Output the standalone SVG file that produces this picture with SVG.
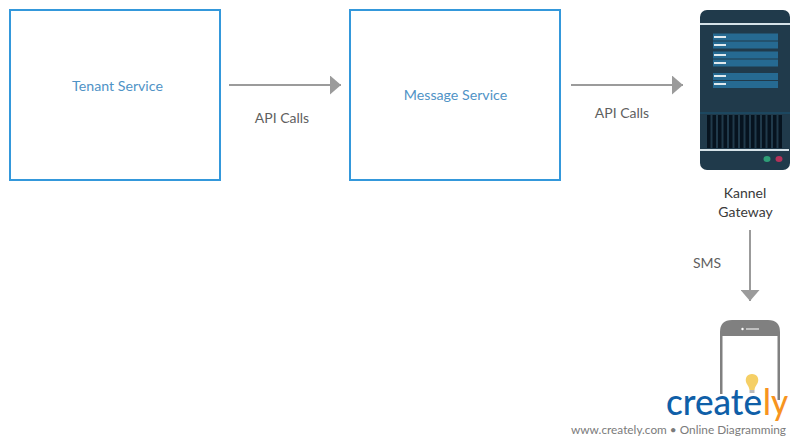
<svg xmlns="http://www.w3.org/2000/svg" width="800" height="445" viewBox="0 0 800 445">
<style>
text{font-family:Lato,"Open Sans",sans-serif}
.box{fill:#fff;stroke:#3498db;stroke-width:2}
.bl{font-size:14.2px;fill:#4f93c6;text-anchor:middle}
.lb{font-size:14px;fill:#5f5f5f;text-anchor:middle}
.k{font-size:14px;fill:#3a3a3a;text-anchor:middle}
.c{stroke:#9b9b9b;stroke-width:2;fill:none;marker-end:url(#a)}
.bar{fill:#266a92}
.hl{fill:#dfe9ee}
.sl{fill:#06131f}
</style>
<defs><marker id="a" markerUnits="userSpaceOnUse" markerWidth="12" markerHeight="19" refX="11" refY="9.5" orient="auto"><path d="M0 0L11 9.5L0 19Z" fill="#9b9b9b"/></marker></defs>
<rect width="800" height="445" fill="#fff"/>
<g id="connectors">
<path class="c" d="M229 85H341"/>
<path class="c" d="M571 85H683"/>
<path class="c" d="M750 230V301"/>
</g>
<g id="tenant"><rect class="box" x="10" y="10" width="210" height="170"/><text class="bl" x="117.500" y="91">Tenant Service</text></g>
<g id="message"><rect class="box" x="350" y="10" width="210" height="170"/><text class="bl" x="455.500" y="100">Message Service</text></g>
<g id="label1"><text class="lb" x="282" y="123">API Calls</text></g>
<g id="label2"><text class="lb" x="622" y="118">API Calls</text></g>
<g id="label3"><text class="lb" x="707" y="268">SMS</text></g>
<g id="gateway">
<rect x="700" y="10" width="90" height="160" rx="7" fill="#203a4b"/>
<rect x="700" y="23" width="90" height="2" fill="#d5e2e8"/>
<rect class="bar" x="713" y="33.500" width="65" height="7"/><rect class="bar" x="713" y="41.500" width="65" height="7"/>
<rect class="bar" x="713" y="51.500" width="65" height="7"/><rect class="bar" x="713" y="59.500" width="65" height="7"/>
<rect class="bar" x="713" y="73" width="65" height="7"/><rect class="bar" x="713" y="81" width="65" height="7"/>
<rect class="hl" x="714" y="36" width="12" height="2"/><rect class="hl" x="714" y="44" width="12" height="2"/>
<rect class="hl" x="714" y="54" width="12" height="2"/><rect class="hl" x="714" y="62" width="12" height="2"/>
<rect class="hl" x="714" y="75" width="12" height="2"/><rect class="hl" x="714" y="83" width="12" height="2"/>
<rect x="700" y="112" width="90" height="2" fill="#1c4760"/>
<g class="sl">
<rect x="707" y="115" width="3.500" height="33"/><rect x="712.500" y="115" width="3.500" height="33"/><rect x="718" y="115" width="3.500" height="33"/><rect x="723.500" y="115" width="3.500" height="33"/><rect x="729" y="115" width="3.500" height="33"/><rect x="734.500" y="115" width="3.500" height="33"/><rect x="740" y="115" width="3.500" height="33"/><rect x="745.500" y="115" width="3.500" height="33"/><rect x="751" y="115" width="3.500" height="33"/><rect x="756.500" y="115" width="3.500" height="33"/><rect x="762" y="115" width="3.500" height="33"/><rect x="767.500" y="115" width="3.500" height="33"/><rect x="773" y="115" width="3.500" height="33"/><rect x="778.500" y="115" width="3.500" height="33"/>
</g>
<rect x="700" y="149" width="89" height="2" fill="#d5e2e8"/>
<ellipse cx="767" cy="159" rx="3.500" ry="3" fill="#2f9e77"/>
<ellipse cx="779" cy="159" rx="3.500" ry="3" fill="#b5325a"/>
<text class="k" x="745" y="198">Kannel</text>
<text class="k" x="745.500" y="217">Gateway</text>
</g>
<g id="phone">
<path d="M720 394V332Q720 320 732 320H768Q780 320 780 332V400H777.500V336H722.500V394Z" fill="#808080"/>
<circle cx="742.500" cy="329" r="1.200" fill="#fff"/><rect x="746" y="328.500" width="13" height="1" fill="#fff"/>
</g>
<g id="watermark">
<path d="M752 374C747 374 745 378 746 382C747 385 749 386 749.500 390H754.500C755 386 757 385 758 382C759 378 757 374 752 374Z" fill="#f5cf65"/>
<rect x="749.500" y="390" width="5" height="3" fill="#bbb"/>
<text x="666" y="415" font-size="36" font-weight="500" fill="#0f5fa8" textLength="96" lengthAdjust="spacingAndGlyphs">create</text>
<text x="763" y="415" font-size="36" font-weight="500" fill="#f7941e" textLength="25" lengthAdjust="spacingAndGlyphs">ly</text>
<text x="571" y="433.500" font-size="12" fill="#7b7b7b" textLength="215" lengthAdjust="spacingAndGlyphs">www.creately.com • Online Diagramming</text>
</g>
</svg>
